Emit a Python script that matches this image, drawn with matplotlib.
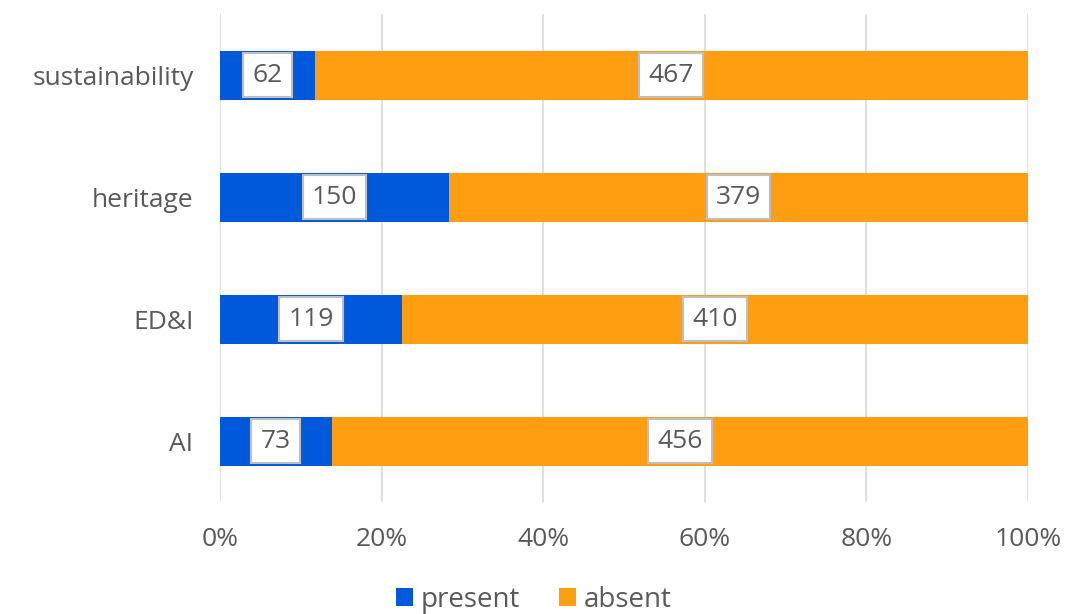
import matplotlib.pyplot as plt
import numpy as np

categories = ["AI", "ED&I", "heritage", "sustainability"]
present = [73, 119, 150, 62]
absent = [456, 410, 379, 467]
xticks = [0, 20, 40, 60, 80, 100]

BLUE = "#0059DB"
ORANGE = "#FF9E11"
TEXT = "#595959"

plt.rcParams["font.family"] = ["Open Sans", "DejaVu Sans"]

fig = plt.figure(figsize=(10.68, 6.14), dpi=100)
ax = fig.add_axes([0.206, 0.182, 0.7565, 0.795])

pres = np.array(present, float)
abse = np.array(absent, float)
tot = pres + abse
p_pct = pres / tot * 100
a_pct = abse / tot * 100
y = np.arange(len(categories))

ax.barh(y, p_pct, height=0.4, color=BLUE, label="present", zorder=2)
ax.barh(y, a_pct, left=p_pct, height=0.4, color=ORANGE, label="absent", zorder=2)

box = dict(boxstyle="square,pad=0.35", facecolor="white", edgecolor="#BFBFBF", linewidth=1.5)
for i in range(len(categories)):
    ax.text(p_pct[i] / 2, y[i], str(present[i]), ha="center", va="center",
            fontsize=19, color=TEXT, bbox=box, zorder=3)
    ax.text(p_pct[i] + a_pct[i] / 2, y[i], str(absent[i]), ha="center", va="center",
            fontsize=19, color=TEXT, bbox=box, zorder=3)

ax.set_xlim(0, 100)
ax.set_ylim(-0.5, len(categories) - 0.5)
ax.set_xticks(xticks)
ax.set_xticklabels([f"{t}%" for t in xticks])
ax.set_yticks(y)
ax.set_yticklabels(categories)
ax.tick_params(axis="both", length=0, labelsize=19, labelcolor=TEXT)
ax.tick_params(axis="x", pad=18)
ax.tick_params(axis="y", pad=19)
ax.grid(axis="x", color="#D9D9D9", linewidth=1.2, zorder=0)
ax.set_axisbelow(True)
for s in ax.spines.values():
    s.set_visible(False)

fig.legend(loc="lower center", bbox_to_anchor=(0.5, -0.04), ncol=2, frameon=False,
           fontsize=20, labelcolor=TEXT, handlelength=0.6, handleheight=0.6,
           handletextpad=0.3, columnspacing=1.4)

fig.savefig("out.png", dpi=100)
